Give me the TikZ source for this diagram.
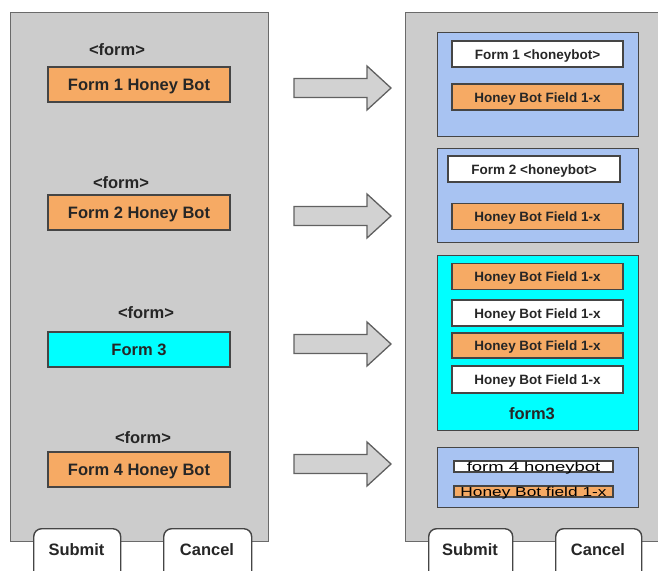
\documentclass[tikz,border=0pt]{standalone}
\usepackage{fontspec}
\setmainfont{Liberation Sans}
\definecolor{panelgray}{HTML}{CCCCCC}
\definecolor{edgec}{HTML}{454545}
\definecolor{orangef}{HTML}{F6AA64}
\definecolor{bluef}{HTML}{A8C3F2}
\definecolor{cyanf}{HTML}{00FFFF}
\definecolor{arrowf}{HTML}{D2D2D2}
\definecolor{txt}{HTML}{262626}
\begin{document}
\begin{tikzpicture}[x=1pt,y=-1pt,
  panel/.style={draw=edgec!80, fill=panelgray, line width=1.4pt, inner sep=0, anchor=north west},
  bigtxt/.style={text=txt, font=\bfseries\fontsize{16.5}{19}\selectfont, text height=12.6pt, text depth=0pt},
  lbox/.style={draw=edgec, line width=1.3pt, inner sep=0, minimum width=182, minimum height=35, bigtxt},
  tag/.style={inner sep=0, bigtxt},
  container/.style={draw=edgec, line width=1.3pt, inner sep=0, anchor=north west},
  rbox/.style={draw=edgec, line width=1.3pt, inner sep=0, minimum width=171, minimum height=26,
    text=txt, font=\bfseries\fontsize{13.5}{16}\selectfont, text height=10.4pt, text depth=0pt},
  thinbox/.style={draw=edgec, line width=1.2pt, inner sep=0, minimum width=159, minimum height=11,
    text height=9.6pt, text depth=0pt, text=black, font=\fontsize{13}{15}\selectfont},
  button/.style={draw=edgec, fill=white, line width=1.4pt, rounded corners=8pt, inner sep=0, anchor=north west},
  btntext/.style={inner sep=0, bigtxt},
  blockarrow/.style={draw=edgec!85, fill=arrowf, line width=1.3pt, line join=miter}
]
\useasboundingbox (0,0) rectangle (658,570);
\clip (0,0) rectangle (658,570);

% panels
\node (leftpanel) [panel, minimum width=258, minimum height=529] at (10,12) {};
\node (rightpanel) [panel, minimum width=280, minimum height=529] at (405,12) {};

% left forms
\node (tag1) [tag] at (117,49) {<form>};
\node (f1) [lbox, fill=orangef] at (139,84.5) {Form 1 Honey Bot};
\node (tag2) [tag] at (121,182) {<form>};
\node (f2) [lbox, fill=orangef] at (139,212.5) {Form 2 Honey Bot};
\node (tag3) [tag] at (146,312) {<form>};
\node (f3) [lbox, fill=cyanf] at (139,349.5) {Form 3};
\node (tag4) [tag] at (143,437) {<form>};
\node (f4) [lbox, fill=orangef] at (139,469.5) {Form 4 Honey Bot};

% block arrows
\foreach \yy in {88,216,344,464}{
  \draw[blockarrow] (294,\yy-9.5) -- (367,\yy-9.5) -- (367,\yy-22) -- (391,\yy)
    -- (367,\yy+22) -- (367,\yy+9.5) -- (294,\yy+9.5) -- cycle;
}

% right containers
\node (c1) [container, fill=bluef, minimum width=201, minimum height=104] at (437,32) {};
\node (r1a) [rbox, fill=white] at (537.5,54) {Form 1 <honeybot>};
\node (r1b) [rbox, fill=orangef] at (537.5,97) {Honey Bot Field 1-x};

\node (c2) [container, fill=bluef, minimum width=201, minimum height=94] at (437,148) {};
\node (r2a) [rbox, fill=white, minimum width=172] at (534,169) {Form 2 <honeybot>};
\node (r2b) [rbox, fill=orangef] at (537.5,216.5) {Honey Bot Field 1-x};

\node (c3) [container, fill=cyanf, minimum width=201, minimum height=175] at (437,255) {};
\node (r3a) [rbox, fill=orangef] at (537.5,276.5) {Honey Bot Field 1-x};
\node (r3b) [rbox, fill=white] at (537.5,313) {Honey Bot Field 1-x};
\node (r3c) [rbox, fill=orangef, minimum height=25] at (537.5,345.5) {Honey Bot Field 1-x};
\node (r3d) [rbox, fill=white, minimum height=27] at (537.5,379.5) {Honey Bot Field 1-x};
\node (r3lbl) [tag] at (532,413) {form3};

\node (c4) [container, fill=bluef, minimum width=201, minimum height=60] at (437,447) {};
\node (r4a) [thinbox, fill=white] at (533.5,466.5) {\scalebox{1.42}[1]{form 4 honeybot}};
\node (r4b) [thinbox, fill=orangef] at (533.5,491.5) {\scalebox{1.33}[1]{Honey Bot field 1-x}};

% buttons
\node (bl1) [button, minimum width=87, minimum height=60] at (33,528) {};
\node (bl1t) [btntext] at (76.5,549) {Submit};
\node (bl2) [button, minimum width=88, minimum height=60] at (163,528) {};
\node (bl2t) [btntext] at (207,549) {Cancel};
\node (br1) [button, minimum width=84, minimum height=60] at (428,528) {};
\node (br1t) [btntext] at (470,549) {Submit};
\node (br2) [button, minimum width=86, minimum height=60] at (555,528) {};
\node (br2t) [btntext] at (598,549) {Cancel};
\end{tikzpicture}
\end{document}
